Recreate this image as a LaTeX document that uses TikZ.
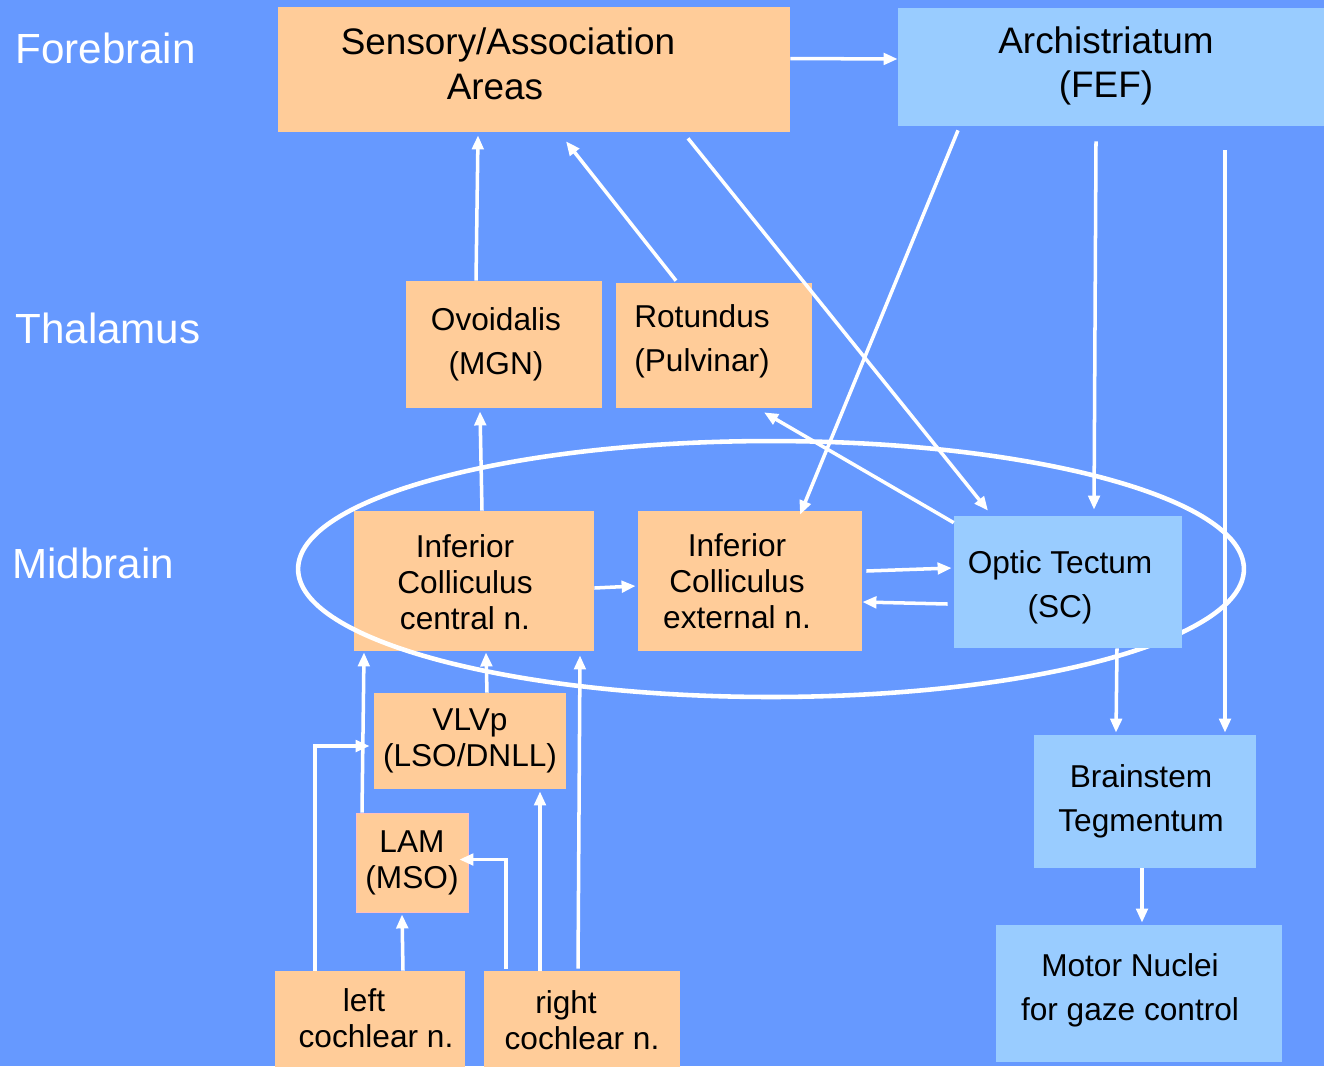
\documentclass[tikz,border=0pt]{standalone}
\usepackage{fontspec}
\setmainfont{Liberation Sans}
\usepackage{tikz}
\usetikzlibrary{arrows.meta,calc}
\definecolor{bgblue}{HTML}{6699FF}
\definecolor{peach}{HTML}{FFCC99}
\definecolor{skyblue}{HTML}{99CCFF}

\begin{document}
\begin{tikzpicture}[x=0.02cm, y=-0.02cm, >={Triangle[length=8pt,width=6.5pt]},
  box/.style={fill=#1, inner sep=0pt, align=center},
  box/.default=peach,
  big/.style={font=\fontsize{21}{25.5}\selectfont},
  mid/.style={font=\fontsize{18}{25}\selectfont},
  small/.style={font=\fontsize{18}{20.5}\selectfont},
  lvl/.style={anchor=west, inner sep=0pt, text=white, font=\fontsize{24}{28}\selectfont},
  arr/.style={->, white, line width=2pt}]
  % background
  \fill[bgblue] (0,0) rectangle (1324,1066);
  \useasboundingbox (0,0) rectangle (1324,1066);
  % levels
  \node[lvl] (fore) at (15,48) {Forebrain};
  \node[lvl] (thal) at (15,328) {Thalamus};
  \node[lvl] (midb) at (12,563) {Midbrain};
  % forebrain
  \node[box, minimum width=10.24cm, minimum height=2.5cm,
    label={[big, align=center, xshift=-0.52cm, yshift=0.12cm]center:{Sensory/Association\\Areas\hspace*{0.52cm}}}] (sens) at (534,69.5) {};
  \node[box=skyblue, minimum width=8.52cm, minimum height=2.36cm,
    label={[big, align=center, xshift=-0.1cm, yshift=0.02cm]center:{Archistriatum\\(FEF)}}] (arch) at (1111,67) {};
  % thalamus
  \node[box, minimum width=3.92cm, minimum height=2.54cm,
    label={[mid, align=center, xshift=-0.16cm, yshift=0.01cm]center:{Ovoidalis\\(MGN)}}] (ovo) at (504,344.5) {};
  \node[box, minimum width=3.92cm, minimum height=2.5cm,
    label={[mid, align=center, xshift=-0.24cm, yshift=0.08cm]center:{Rotundus\\(Pulvinar)}}] (rot) at (714,345.5) {};
  % midbrain
  \node[box, minimum width=4.8cm, minimum height=2.8cm,
    label={[small, align=center, xshift=-0.18cm, yshift=-0.02cm]center:{Inferior\\Colliculus\\central n.}}] (icc) at (474,581) {};
  \draw[white, line width=2.6pt] (771,569) ellipse [x radius=9.46cm, y radius=2.56cm];
  \node[box, minimum width=4.48cm, minimum height=2.8cm,
    label={[small, align=center, xshift=-0.26cm]center:{Inferior\\Colliculus\\external n.}}] (ice) at (750,581) {};
  \node[box=skyblue, minimum width=4.56cm, minimum height=2.64cm,
    label={[mid, align=center, xshift=-0.16cm, yshift=-0.1cm]center:{Optic Tectum\\(SC)}}] (ot) at (1068,582) {};
  % brainstem
  \node[box, small, minimum width=3.84cm, minimum height=1.92cm] (vlvp) at (470,741) {VLVp\\(LSO/DNLL)};
  \node[box, small, draw=pink, minimum width=2.24cm, minimum height=1.98cm] (lam) at (412,862.5) {LAM\\(MSO)};
  \node[box, minimum width=3.8cm, minimum height=1.98cm,
    label={[small, align=center, xshift=0.12cm, yshift=0.04cm]center:{left\hspace*{0.48cm}\\cochlear n.}}] (left) at (370,1020.5) {};
  \node[box, small, minimum width=3.92cm, minimum height=1.98cm] (right) at (582,1020.5) {right\hspace*{0.64cm}\\cochlear n.};
  \node[box=skyblue, minimum width=4.44cm, minimum height=2.66cm,
    label={[mid, align=center, xshift=-0.08cm]center:{Brainstem\\Tegmentum}}] (brain) at (1145,801.5) {};
  \node[box=skyblue, minimum width=5.72cm, minimum height=2.74cm,
    label={[mid, align=center, xshift=-0.18cm, yshift=0.06cm]center:{Motor Nuclei\\for gaze control}}] (motor) at (1139,993.5) {};
  % forebrain connections
  \draw[arr] ($(sens.east)+(0,-11)$) -- ($(arch.west)+(0,-8)$);
  \draw[arr] ($(ovo.north)+(-28,0)$) -- ($(sens.south)+(-56,3)$);
  \draw[arr] ($(rot.north)+(-38,-2)$) -- ($(sens.south)+(32,9)$);
  \draw[arr] ($(sens.south)+(154,6)$) -- ($(ot.north)+(-80,-5)$);
  \draw[arr] ($(arch.south)+(-153,4)$) -- ($(ice.north)+(50,4)$);
  \draw[arr] ($(arch.south)+(-15,15)$) -- ($(ot.north)+(26,-6)$);
  \draw[arr] ($(arch.south)+(114,24)$) -- ($(brain.north)+(80,-2)$);
  % midbrain connections
  \draw[arr] ($(ot.north west)+(0,7)$) -- ($(rot.south)+(50,4)$);
  \draw[arr] ($(icc.north)+(8,0)$) -- ($(ovo.south)+(-24,3)$);
  \draw[arr] ($(icc.east)+(0,7)$) -- ($(ice.west)+(-2,5)$);
  \draw[arr] ($(ice.east)+(4,-10)$) -- ($(ot.west)+(-2,-14)$);
  \draw[arr] ($(ot.west)+(-6,22)$) -- ($(ice.east)+(0,21)$);
  \draw[arr] ($(ot.south)+(49,0)$) -- ($(brain.north)+(-29,-2)$);
  \draw[arr] ($(brain.south)+(-3,0)$) -- ($(motor.north)+(3,-2)$);
  % auditory pathway
  \draw[arr] ($(vlvp.north)+(17,0)$) -- ($(icc.south)+(12,1)$);
  \draw[arr] ($(lam.north)+(-50,0)$) -- ($(icc.south)+(-110,1)$);
  \draw[arr] ($(left.north)+(-55,0)$) |- ($(vlvp.west)+(-4,5)$);
  \draw[arr] ($(left.north)+(33,0)$) -- ($(lam.south)+(-10,2)$);
  \draw[arr] ($(right.north)+(-76,-2)$) |- ($(lam.east)+(-9,-3)$);
  \draw[arr] ($(right.north)+(-42,0)$) -- ($(vlvp.south)+(70,2)$);
  \draw[arr] ($(right.north)+(-4,-2)$) -- ($(icc.south)+(106,4)$);
\end{tikzpicture}
\end{document}
